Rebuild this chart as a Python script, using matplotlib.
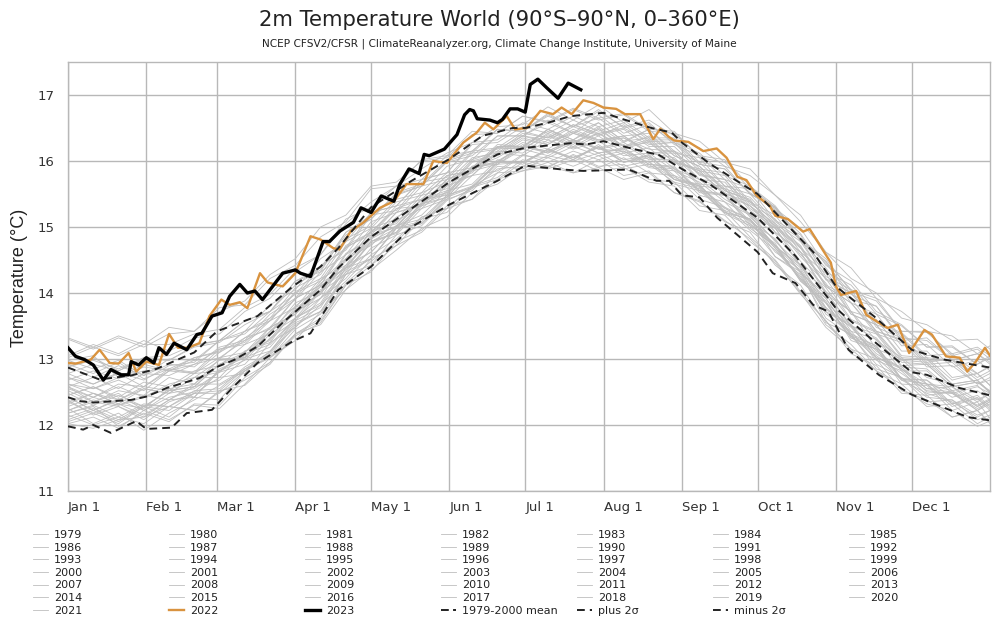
import matplotlib
matplotlib.use("Agg")
import matplotlib.pyplot as plt

# gray years are read every 10 days
grid_days = [0, 10, 20, 30, 40, 50, 60, 70, 80, 90, 100, 110, 120, 130, 140, 150, 160, 170, 180, 190, 200, 210, 220, 230, 240, 250, 260, 270, 280, 290, 300, 310, 320, 330, 340, 350, 360, 365]

y1979 = [12.05, 12.18, 12.02, 12.28, 12.12, 12.42, 12.38, 12.82, 13.05, 13.52, 13.72, 14.28, 14.52, 14.98, 15.05, 15.42, 15.55, 15.92, 15.88, 16.05, 15.92, 16.08, 15.88, 15.95, 15.68, 15.58, 15.20, 15.02, 14.55, 14.28, 13.62, 13.35, 12.92, 12.72, 12.42, 12.38, 12.15, 12.22]
y1980 = [12.38, 12.15, 12.28, 12.08, 12.35, 12.48, 12.72, 12.78, 13.25, 13.48, 13.92, 14.22, 14.68, 14.88, 15.28, 15.42, 15.78, 15.85, 16.10, 15.98, 16.15, 16.02, 16.12, 15.90, 15.85, 15.48, 15.38, 14.98, 14.72, 14.18, 13.85, 13.32, 13.15, 12.68, 12.62, 12.32, 12.45, 12.28]
y1981 = [12.62, 12.48, 12.32, 12.25, 12.55, 12.42, 12.85, 13.02, 13.18, 13.62, 13.85, 14.42, 14.62, 15.02, 15.18, 15.55, 15.65, 16.02, 15.95, 16.18, 16.02, 16.22, 15.98, 16.05, 15.72, 15.62, 15.25, 15.10, 14.62, 14.35, 13.68, 13.42, 12.98, 12.82, 12.45, 12.50, 12.22, 12.32]
y1982 = [12.18, 12.28, 11.98, 12.18, 12.05, 12.32, 12.30, 12.72, 12.95, 13.38, 13.62, 14.15, 14.48, 14.78, 15.15, 15.28, 15.62, 15.75, 16.02, 15.92, 16.08, 15.90, 16.05, 15.82, 15.78, 15.42, 15.30, 14.95, 14.65, 14.22, 13.92, 13.38, 13.20, 12.70, 12.68, 12.42, 12.52, 12.38]
y1983 = [12.72, 12.55, 12.68, 12.52, 12.82, 12.78, 13.02, 13.10, 13.48, 13.68, 14.02, 14.42, 14.78, 14.98, 15.35, 15.50, 15.88, 15.98, 16.25, 16.12, 16.32, 16.18, 16.15, 15.98, 15.72, 15.65, 15.22, 15.12, 14.55, 14.32, 13.55, 13.38, 12.85, 12.72, 12.35, 12.38, 12.08, 12.15]
y1984 = [12.02, 12.12, 11.95, 12.22, 12.08, 12.30, 12.25, 12.62, 13.02, 13.28, 13.72, 14.05, 14.52, 14.72, 15.12, 15.22, 15.60, 15.72, 15.98, 15.90, 16.10, 15.92, 15.95, 15.72, 15.68, 15.32, 15.25, 14.85, 14.50, 14.02, 13.58, 13.15, 13.00, 12.52, 12.38, 12.12, 12.22, 12.02]
y1985 = [12.15, 12.00, 12.12, 12.02, 12.28, 12.22, 12.52, 12.60, 12.95, 13.35, 13.55, 14.12, 14.32, 14.78, 14.95, 15.32, 15.42, 15.82, 15.85, 15.98, 15.82, 16.02, 15.78, 15.85, 15.52, 15.40, 15.08, 14.92, 14.42, 14.12, 13.52, 13.22, 12.82, 12.62, 12.28, 12.32, 12.02, 12.12]
y1986 = [12.25, 12.02, 12.18, 11.92, 12.18, 12.38, 12.60, 12.82, 13.02, 13.45, 13.68, 14.28, 14.42, 14.88, 15.02, 15.40, 15.58, 15.88, 15.92, 16.08, 16.00, 16.12, 15.92, 16.00, 15.65, 15.55, 15.22, 15.05, 14.68, 14.22, 13.78, 13.38, 13.05, 12.78, 12.52, 12.48, 12.25, 12.35]
y1987 = [12.32, 12.48, 12.38, 12.58, 12.52, 12.78, 12.82, 13.08, 13.22, 13.62, 13.92, 14.32, 14.78, 14.92, 15.38, 15.52, 15.90, 16.05, 16.28, 16.18, 16.42, 16.28, 16.35, 16.12, 16.15, 15.78, 15.72, 15.28, 15.02, 14.55, 14.15, 13.60, 13.42, 12.98, 12.95, 12.62, 12.68, 12.50]
y1988 = [12.58, 12.35, 12.52, 12.45, 12.72, 12.62, 13.00, 13.02, 13.48, 13.68, 14.15, 14.38, 14.88, 15.00, 15.42, 15.48, 15.92, 15.98, 16.22, 16.12, 16.30, 16.12, 16.20, 15.95, 15.92, 15.55, 15.48, 15.05, 14.72, 14.20, 13.88, 13.28, 13.15, 12.62, 12.60, 12.22, 12.35, 12.10]
y1989 = [12.08, 12.22, 12.05, 12.28, 12.22, 12.48, 12.52, 12.85, 13.08, 13.55, 13.72, 14.32, 14.52, 14.98, 15.05, 15.45, 15.60, 15.95, 15.98, 16.18, 16.05, 16.20, 15.98, 16.08, 15.75, 15.62, 15.28, 15.12, 14.72, 14.32, 13.72, 13.50, 13.02, 12.85, 12.55, 12.50, 12.28, 12.38]
y1990 = [12.42, 12.22, 12.40, 12.28, 12.52, 12.58, 12.92, 13.02, 13.42, 13.80, 14.10, 14.38, 14.85, 15.00, 15.42, 15.52, 15.92, 15.95, 16.22, 16.15, 16.32, 16.18, 16.25, 16.02, 16.02, 15.65, 15.62, 15.18, 14.98, 14.40, 14.02, 13.50, 13.32, 12.88, 12.85, 12.52, 12.60, 12.42]
y1991 = [12.45, 12.58, 12.38, 12.55, 12.48, 12.72, 12.80, 13.12, 13.28, 13.72, 13.92, 14.52, 14.72, 15.10, 15.28, 15.62, 15.78, 16.12, 16.08, 16.32, 16.18, 16.30, 16.08, 16.12, 15.85, 15.68, 15.38, 15.18, 14.70, 14.42, 13.78, 13.48, 13.08, 12.85, 12.50, 12.48, 12.22, 12.36]
y1992 = [12.28, 12.42, 12.30, 12.45, 12.38, 12.62, 12.62, 12.85, 13.02, 13.38, 13.58, 14.12, 14.42, 14.72, 14.92, 15.28, 15.42, 15.72, 15.85, 15.92, 15.82, 15.90, 15.72, 15.82, 15.52, 15.38, 15.10, 14.82, 14.45, 14.00, 13.48, 13.15, 12.82, 12.55, 12.32, 12.22, 11.98, 12.06]
y1993 = [12.02, 11.95, 12.08, 12.12, 12.28, 12.22, 12.50, 12.68, 12.92, 13.38, 13.52, 14.05, 14.35, 14.65, 14.98, 15.15, 15.52, 15.65, 15.92, 15.88, 16.02, 15.85, 15.90, 15.68, 15.62, 15.25, 15.18, 14.78, 14.48, 13.98, 13.58, 13.08, 12.90, 12.48, 12.45, 12.12, 12.22, 12.04]
y1994 = [12.12, 12.25, 12.08, 12.30, 12.28, 12.48, 12.48, 12.82, 13.12, 13.48, 13.82, 14.18, 14.58, 14.82, 15.15, 15.28, 15.62, 15.82, 16.08, 16.05, 16.22, 16.08, 16.15, 15.92, 15.88, 15.55, 15.50, 15.08, 14.82, 14.30, 13.98, 13.42, 13.30, 12.82, 12.82, 12.48, 12.58, 12.48]
y1995 = [12.58, 12.42, 12.62, 12.58, 12.85, 12.80, 13.15, 13.22, 13.58, 13.78, 14.22, 14.42, 14.95, 15.05, 15.48, 15.58, 16.00, 16.10, 16.35, 16.25, 16.48, 16.32, 16.38, 16.12, 16.05, 15.72, 15.58, 15.15, 14.80, 14.32, 13.92, 13.35, 13.20, 12.70, 12.62, 12.28, 12.42, 12.25]
y1996 = [12.22, 12.35, 12.28, 12.12, 12.38, 12.58, 12.68, 13.00, 13.12, 13.58, 13.78, 14.38, 14.52, 15.00, 15.08, 15.48, 15.60, 15.98, 15.98, 16.18, 16.02, 16.25, 15.98, 16.10, 15.72, 15.60, 15.22, 15.12, 14.72, 14.38, 13.75, 13.52, 13.02, 12.88, 12.55, 12.58, 12.35, 12.48]
y1997 = [12.35, 12.48, 12.32, 12.55, 12.48, 12.72, 12.72, 13.12, 13.25, 13.75, 13.98, 14.52, 14.82, 15.15, 15.35, 15.72, 15.88, 16.22, 16.22, 16.48, 16.32, 16.52, 16.28, 16.48, 16.12, 16.05, 15.62, 15.58, 15.10, 14.88, 14.25, 14.05, 13.48, 13.32, 12.98, 12.98, 12.78, 12.88]
y1998 = [12.88, 12.98, 12.85, 13.02, 13.05, 13.22, 13.28, 13.58, 13.72, 14.12, 14.35, 14.88, 15.12, 15.50, 15.62, 16.00, 16.12, 16.48, 16.45, 16.68, 16.52, 16.65, 16.38, 16.42, 16.08, 15.92, 15.55, 15.42, 14.92, 14.62, 13.98, 13.72, 13.15, 13.00, 12.62, 12.58, 12.28, 12.38]
y1999 = [12.42, 12.22, 12.38, 12.22, 12.48, 12.55, 12.80, 12.92, 13.32, 13.58, 14.02, 14.28, 14.78, 14.90, 15.35, 15.45, 15.85, 15.95, 16.18, 16.08, 16.28, 16.12, 16.18, 15.95, 15.90, 15.52, 15.48, 15.02, 14.75, 14.18, 13.85, 13.32, 13.18, 12.70, 12.68, 12.32, 12.40, 12.22]
y2000 = [12.18, 12.30, 12.12, 12.32, 12.28, 12.52, 12.55, 12.88, 13.10, 13.62, 13.82, 14.38, 14.62, 15.02, 15.12, 15.48, 15.62, 15.98, 15.98, 16.15, 16.05, 16.22, 16.02, 16.08, 15.78, 15.62, 15.30, 15.12, 14.68, 14.25, 13.72, 13.35, 13.02, 12.68, 12.48, 12.35, 12.12, 12.22]
y2001 = [12.22, 12.38, 12.30, 12.42, 12.55, 12.62, 12.92, 13.10, 13.42, 13.72, 14.18, 14.52, 14.98, 15.12, 15.52, 15.68, 16.05, 16.12, 16.38, 16.28, 16.42, 16.32, 16.35, 16.18, 16.15, 15.80, 15.72, 15.32, 15.05, 14.58, 14.22, 13.68, 13.52, 13.05, 13.02, 12.68, 12.78, 12.60]
y2002 = [12.62, 12.55, 12.72, 12.82, 12.85, 13.02, 13.12, 13.42, 13.58, 14.02, 14.22, 14.78, 14.98, 15.38, 15.48, 15.82, 15.90, 16.25, 16.22, 16.45, 16.28, 16.42, 16.22, 16.28, 15.98, 15.88, 15.55, 15.40, 15.00, 14.70, 14.10, 13.85, 13.38, 13.25, 12.88, 12.90, 12.62, 12.68]
y2003 = [12.72, 12.62, 12.78, 12.58, 12.82, 12.92, 13.15, 13.25, 13.62, 13.90, 14.32, 14.58, 15.08, 15.22, 15.62, 15.72, 16.12, 16.18, 16.38, 16.32, 16.52, 16.38, 16.55, 16.25, 16.28, 15.88, 15.82, 15.38, 15.18, 14.68, 14.35, 13.72, 13.60, 13.12, 13.12, 12.72, 12.78, 12.60]
y2004 = [12.58, 12.72, 12.55, 12.78, 12.75, 12.92, 13.02, 13.28, 13.48, 13.92, 14.12, 14.68, 14.92, 15.28, 15.42, 15.78, 15.85, 16.20, 16.18, 16.40, 16.22, 16.42, 16.18, 16.30, 15.98, 15.85, 15.50, 15.38, 15.02, 14.72, 14.12, 13.92, 13.42, 13.28, 12.92, 12.95, 12.62, 12.72]
y2005 = [12.78, 12.62, 12.80, 12.68, 12.90, 12.95, 13.28, 13.38, 13.72, 13.98, 14.42, 14.65, 15.18, 15.25, 15.68, 15.75, 16.15, 16.20, 16.45, 16.35, 16.55, 16.40, 16.48, 16.22, 16.22, 15.85, 15.78, 15.35, 15.12, 14.62, 14.30, 13.68, 13.52, 13.02, 13.00, 12.62, 12.68, 12.48]
y2006 = [12.45, 12.58, 12.42, 12.65, 12.58, 12.82, 12.90, 13.22, 13.38, 13.85, 14.02, 14.60, 14.82, 15.22, 15.35, 15.72, 15.88, 16.22, 16.22, 16.48, 16.28, 16.48, 16.22, 16.32, 16.02, 15.82, 15.52, 15.32, 14.98, 14.68, 14.10, 13.85, 13.42, 13.30, 12.95, 13.00, 12.72, 12.82]
y2007 = [12.92, 12.78, 12.95, 12.70, 12.85, 12.78, 13.10, 13.32, 13.58, 14.00, 14.18, 14.70, 14.88, 15.28, 15.32, 15.68, 15.78, 16.15, 16.12, 16.38, 16.20, 16.38, 16.12, 16.20, 15.88, 15.72, 15.42, 15.20, 14.78, 14.42, 13.85, 13.52, 13.12, 12.85, 12.62, 12.52, 12.30, 12.40]
y2008 = [12.35, 12.18, 12.32, 12.15, 12.38, 12.42, 12.82, 12.98, 13.38, 13.62, 14.05, 14.35, 14.75, 14.92, 15.32, 15.45, 15.88, 16.00, 16.22, 16.15, 16.32, 16.20, 16.28, 16.05, 16.00, 15.62, 15.58, 15.18, 14.90, 14.42, 14.02, 13.50, 13.38, 12.90, 12.92, 12.58, 12.65, 12.52]
y2009 = [12.55, 12.42, 12.58, 12.42, 12.62, 12.72, 12.98, 13.02, 13.42, 13.72, 14.10, 14.48, 14.92, 15.08, 15.42, 15.62, 16.02, 16.15, 16.42, 16.35, 16.55, 16.42, 16.50, 16.30, 16.28, 15.95, 15.88, 15.52, 15.25, 14.80, 14.38, 13.85, 13.68, 13.20, 13.22, 12.88, 12.98, 12.82]
y2010 = [12.78, 12.92, 12.82, 13.00, 12.98, 13.18, 13.25, 13.52, 13.72, 14.18, 14.38, 14.92, 15.18, 15.48, 15.62, 15.98, 16.08, 16.38, 16.38, 16.58, 16.42, 16.58, 16.30, 16.35, 16.02, 15.85, 15.48, 15.32, 14.92, 14.62, 14.02, 13.72, 13.28, 13.02, 12.72, 12.62, 12.38, 12.48]
y2011 = [12.48, 12.30, 12.45, 12.28, 12.52, 12.58, 12.92, 13.02, 13.42, 13.68, 14.10, 14.38, 14.82, 15.02, 15.42, 15.55, 15.98, 16.08, 16.32, 16.25, 16.45, 16.30, 16.38, 16.12, 16.12, 15.72, 15.68, 15.25, 14.98, 14.48, 14.08, 13.58, 13.40, 12.95, 12.92, 12.58, 12.65, 12.50]
y2012 = [12.52, 12.35, 12.48, 12.22, 12.42, 12.50, 12.82, 13.05, 13.30, 13.78, 13.98, 14.58, 14.82, 15.22, 15.32, 15.72, 15.82, 16.22, 16.20, 16.48, 16.32, 16.58, 16.30, 16.48, 16.15, 15.98, 15.62, 15.50, 15.08, 14.82, 14.20, 14.00, 13.52, 13.38, 13.02, 12.98, 12.68, 12.78]
y2013 = [12.68, 12.82, 12.70, 12.88, 12.82, 12.98, 13.00, 13.32, 13.45, 13.92, 14.12, 14.72, 14.92, 15.32, 15.42, 15.78, 15.85, 16.20, 16.18, 16.42, 16.25, 16.50, 16.22, 16.38, 16.08, 15.92, 15.58, 15.45, 15.05, 14.78, 14.22, 14.00, 13.55, 13.40, 13.05, 13.08, 12.78, 12.90]
y2014 = [12.88, 12.72, 12.90, 12.75, 12.92, 12.88, 13.18, 13.28, 13.68, 13.92, 14.40, 14.68, 15.22, 15.32, 15.72, 15.82, 16.25, 16.28, 16.52, 16.42, 16.62, 16.45, 16.58, 16.32, 16.32, 15.95, 15.88, 15.50, 15.28, 14.78, 14.48, 13.90, 13.80, 13.28, 13.32, 12.98, 13.08, 12.95]
y2015 = [12.88, 13.02, 12.82, 13.02, 12.98, 13.20, 13.28, 13.58, 13.72, 14.18, 14.32, 14.92, 15.12, 15.52, 15.65, 16.02, 16.15, 16.48, 16.45, 16.72, 16.52, 16.75, 16.52, 16.62, 16.38, 16.20, 15.92, 15.78, 15.48, 15.08, 14.62, 14.22, 14.00, 13.62, 13.52, 13.28, 13.30, 13.15]
y2016 = [13.30, 13.15, 13.32, 13.18, 13.38, 13.42, 13.72, 13.88, 14.28, 14.52, 15.00, 15.18, 15.62, 15.68, 16.00, 16.05, 16.40, 16.42, 16.68, 16.60, 16.80, 16.65, 16.72, 16.48, 16.45, 16.05, 15.98, 15.58, 15.30, 14.82, 14.45, 13.98, 13.80, 13.32, 13.28, 12.98, 13.08, 12.92]
y2017 = [13.02, 13.18, 13.05, 13.22, 13.22, 13.38, 13.45, 13.78, 13.98, 14.38, 14.58, 15.12, 15.30, 15.62, 15.72, 16.08, 16.15, 16.48, 16.45, 16.70, 16.52, 16.78, 16.50, 16.58, 16.25, 16.08, 15.72, 15.58, 15.25, 14.90, 14.32, 14.12, 13.68, 13.50, 13.18, 13.18, 12.92, 13.02]
y2018 = [12.98, 12.85, 12.98, 12.75, 13.00, 12.98, 13.28, 13.42, 13.82, 14.05, 14.52, 14.78, 15.22, 15.32, 15.72, 15.82, 16.28, 16.32, 16.58, 16.48, 16.68, 16.52, 16.62, 16.35, 16.35, 15.98, 15.92, 15.50, 15.30, 14.82, 14.52, 14.02, 13.88, 13.42, 13.40, 13.08, 13.18, 13.05]
y2019 = [13.05, 13.22, 13.08, 13.28, 13.12, 13.32, 13.38, 13.72, 13.92, 14.32, 14.58, 15.05, 15.38, 15.62, 15.88, 16.12, 16.28, 16.52, 16.55, 16.82, 16.62, 16.85, 16.58, 16.78, 16.42, 16.30, 15.98, 15.88, 15.48, 15.18, 14.62, 14.38, 13.92, 13.72, 13.42, 13.35, 13.08, 13.20]
y2020 = [13.32, 13.18, 13.35, 13.22, 13.48, 13.42, 13.78, 13.82, 14.22, 14.42, 14.85, 15.08, 15.58, 15.62, 16.02, 16.08, 16.45, 16.42, 16.68, 16.58, 16.78, 16.62, 16.70, 16.45, 16.42, 16.08, 16.02, 15.62, 15.32, 14.82, 14.48, 14.05, 13.92, 13.42, 13.42, 13.05, 13.15, 13.00]
y2021 = [12.98, 13.05, 12.72, 12.92, 12.82, 13.02, 13.10, 13.42, 13.62, 14.08, 14.28, 14.82, 15.02, 15.42, 15.52, 15.92, 16.02, 16.38, 16.38, 16.62, 16.42, 16.70, 16.42, 16.55, 16.28, 16.12, 15.78, 15.62, 15.28, 14.98, 14.42, 14.18, 13.72, 13.52, 13.18, 13.20, 12.92, 13.05]

gray_years = [y1979, y1980, y1981, y1982, y1983, y1984, y1985, y1986, y1987, y1988, y1989,
              y1990, y1991, y1992, y1993, y1994, y1995, y1996, y1997, y1998, y1999, y2000,
              y2001, y2002, y2003, y2004, y2005, y2006, y2007, y2008, y2009, y2010, y2011,
              y2012, y2013, y2014, y2015, y2016, y2017, y2018, y2019, y2020, y2021]

days_2022 = [0, 3, 9, 12.5, 16.5, 20, 24, 27, 31, 36, 40, 43.5, 47.5, 52, 56, 60.7, 64, 68, 71, 76, 79, 85, 90, 96, 100, 105, 107.5,
             112, 117, 123.5, 129, 134, 140.7, 144.6, 150, 156.5, 161.8, 165, 168.4, 173.7, 177, 181.6, 187, 192, 195.4, 199.4, 204, 208, 212, 217, 220.5, 226.5, 231.7, 234.5,
             237.7, 240, 245.6, 251.5, 256.8, 260.7, 265, 268.6, 272.5, 277.8, 280, 285, 291, 293.6, 299, 302, 304, 306, 312, 316, 321, 324.5, 328.5, 333, 339, 342, 347.6, 353, 356, 359.4, 363, 365]
temp_2022 = [12.94, 12.93, 12.99, 13.14, 12.94, 12.93, 13.09, 12.81, 12.96, 12.91, 13.38, 13.17, 13.17, 13.24, 13.65, 13.90, 13.82, 13.86, 13.77, 14.30, 14.16, 14.10, 14.30, 14.86, 14.81, 14.68, 14.66,
             14.94, 15.07, 15.29, 15.39, 15.65, 15.65, 16.00, 15.97, 16.28, 16.43, 16.58, 16.48, 16.68, 16.48, 16.50, 16.76, 16.71, 16.81, 16.71, 16.92, 16.88, 16.81, 16.79, 16.71, 16.71, 16.33, 16.49,
             16.37, 16.31, 16.29, 16.15, 16.19, 16.05, 15.76, 15.71, 15.48, 15.32, 15.17, 15.12, 14.93, 14.97, 14.64, 14.46, 14.10, 13.97, 14.03, 13.67, 13.55, 13.47, 13.52, 13.09, 13.44, 13.37, 13.04, 13.02, 12.81, 12.96, 13.17, 13.05]

days_2023 = [0, 3, 6.6, 10, 14, 17, 21, 24, 25, 28, 31, 34, 36, 39, 42, 47, 51, 53, 57, 61, 64, 68, 71, 74, 77, 85, 90, 92, 96, 101, 103.5,
             107.7, 113, 116, 120, 124, 129, 131.4, 135, 139, 141, 143, 146, 149, 154, 157, 159, 160.5, 162, 167, 170, 172, 175, 178, 181, 183, 186, 189.5, 194, 198, 203]
temp_2023 = [13.17, 13.04, 12.99, 12.91, 12.68, 12.84, 12.76, 12.76, 12.96, 12.91, 13.02, 12.94, 13.17, 13.07, 13.24, 13.14, 13.37, 13.39, 13.65, 13.70, 13.95, 14.13, 14.00, 14.03, 13.90, 14.30, 14.35, 14.30, 14.25, 14.78, 14.78,
             14.94, 15.07, 15.29, 15.22, 15.47, 15.39, 15.65, 15.88, 15.81, 16.10, 16.08, 16.13, 16.18, 16.40, 16.70, 16.78, 16.76, 16.64, 16.62, 16.58, 16.63, 16.79, 16.79, 16.74, 17.16, 17.24, 17.11, 16.95, 17.18, 17.08]

days_mean = [0, 5, 10, 25, 31, 39, 52, 59, 66, 75, 85, 100, 107, 120, 136, 151, 170, 181, 199, 205, 212, 222, 234, 243, 254, 273, 288, 304, 319, 334, 340, 353, 365]
temp_mean = [12.42, 12.36, 12.34, 12.38, 12.43, 12.56, 12.71, 12.88, 12.99, 13.19, 13.55, 14.05, 14.38, 14.85, 15.28, 15.68, 16.10, 16.20, 16.27, 16.25, 16.30, 16.20, 16.09, 15.88, 15.65, 15.14, 14.56, 13.77, 13.27, 12.80, 12.76, 12.56, 12.45]

days_plus = [0, 12.5, 25, 35, 50, 59, 75, 89, 100, 107, 120, 136, 151, 164, 176, 181, 190, 199, 212, 220, 231, 239, 243, 254, 273, 288, 295, 304, 319, 334, 347, 365]
temp_plus = [12.87, 12.69, 12.75, 12.85, 13.10, 13.42, 13.65, 14.10, 14.40, 14.68, 15.30, 15.70, 16.03, 16.38, 16.50, 16.50, 16.58, 16.68, 16.73, 16.63, 16.50, 16.43, 16.28, 15.96, 15.50, 14.90, 14.62, 14.10, 13.65, 13.14, 12.99, 12.87]

days_minus = [0, 6, 10, 17, 27, 31, 41, 47, 57, 65, 75, 89, 96, 107, 120, 136, 151, 170, 181, 196, 204, 222, 233, 238, 243, 250, 257, 273, 279, 288, 295, 301, 309, 321, 334, 347, 356, 365]
temp_minus = [11.98, 11.93, 12.00, 11.88, 12.06, 11.94, 11.96, 12.18, 12.23, 12.56, 12.94, 13.27, 13.39, 14.05, 14.40, 15.00, 15.34, 15.70, 15.93, 15.87, 15.85, 15.87, 15.70, 15.70, 15.48, 15.45, 15.14, 14.62, 14.30, 14.15, 13.82, 13.72, 13.14, 12.76, 12.46, 12.26, 12.12, 12.07]

month_days = [0, 31, 59, 90, 120, 151, 181, 212, 243, 273, 304, 334]
month_labels = ['Jan 1', 'Feb 1', 'Mar 1', 'Apr 1', 'May 1', 'Jun 1', 'Jul 1', 'Aug 1', 'Sep 1', 'Oct 1', 'Nov 1', 'Dec 1']
y_ticks = [11, 12, 13, 14, 15, 16, 17]
extra_labels = ['1979-2000 mean', 'plus 2σ', 'minus 2σ']

W, H = 999, 636
fig = plt.figure(figsize=(W / 100, H / 100), dpi=100)
ax = fig.add_axes([68 / W, 1 - 491 / H, 922 / W, 429 / H])

gray = '#bebebe'
orange = '#d9933f'
handles = []
labels = []
for i, temps in enumerate(gray_years):
    line, = ax.plot(grid_days, temps, color=gray, lw=0.6, zorder=2)
    handles.append(line)
    labels.append(str(1979 + i))

line_22, = ax.plot(days_2022, temp_2022, color=orange, lw=1.7, zorder=3)
line_mean, = ax.plot(days_mean, temp_mean, color='#222222', lw=1.4, dashes=(4, 2.2), zorder=4)
line_plus, = ax.plot(days_plus, temp_plus, color='#222222', lw=1.4, dashes=(4, 2.6), zorder=4)
line_minus, = ax.plot(days_minus, temp_minus, color='#222222', lw=1.4, dashes=(4, 2.6), zorder=4)
line_23, = ax.plot(days_2023, temp_2023, color='black', lw=2.4, zorder=5)

handles += [line_22, line_23, line_mean, line_plus, line_minus]
labels += ['2022', '2023'] + extra_labels

ax.set_xlim(0, 365)
ax.set_ylim(11, 17.5)
ax.set_xticks(month_days)
ax.set_xticklabels(month_labels, ha='left')
ax.set_yticks(y_ticks)
ax.grid(True, color='#b8b8b8', lw=1.0, zorder=1)
ax.set_axisbelow(True)
ax.tick_params(length=0, labelsize=9.5, colors='#333333')
ax.tick_params(axis='x', pad=7)
ax.tick_params(axis='y', pad=10)
for s in ax.spines.values():
    s.set_color('#b8b8b8')
    s.set_linewidth(1.0)

fig.text(20 / W, 1 - 278 / H, 'Temperature (°C)', rotation=90, ha='center', va='center',
         fontsize=13, family='Liberation Sans', color='#222222')
fig.text(499 / W, 1 - 20 / H, '2m Temperature World (90°S–90°N, 0–360°E)', ha='center', va='center',
         fontsize=15.25, color='#222222')
fig.text(499 / W, 1 - 44 / H, 'NCEP CFSV2/CFSR | ClimateReanalyzer.org, Climate Change Institute, University of Maine',
         ha='center', va='center', fontsize=7.6, color='#222222')

# legend is filled row by row in the original, so one legend per column
for col in range(7):
    fig.legend(handles[col::7], labels[col::7], loc='upper left',
               bbox_to_anchor=((33 + 136 * col) / W, 1 - 530 / H), borderaxespad=0, borderpad=0,
               frameon=False, fontsize=8, labelspacing=0.235, handlelength=1.35, handletextpad=0.55,
               labelcolor='#222222')

fig.savefig('out.png', dpi=100)
